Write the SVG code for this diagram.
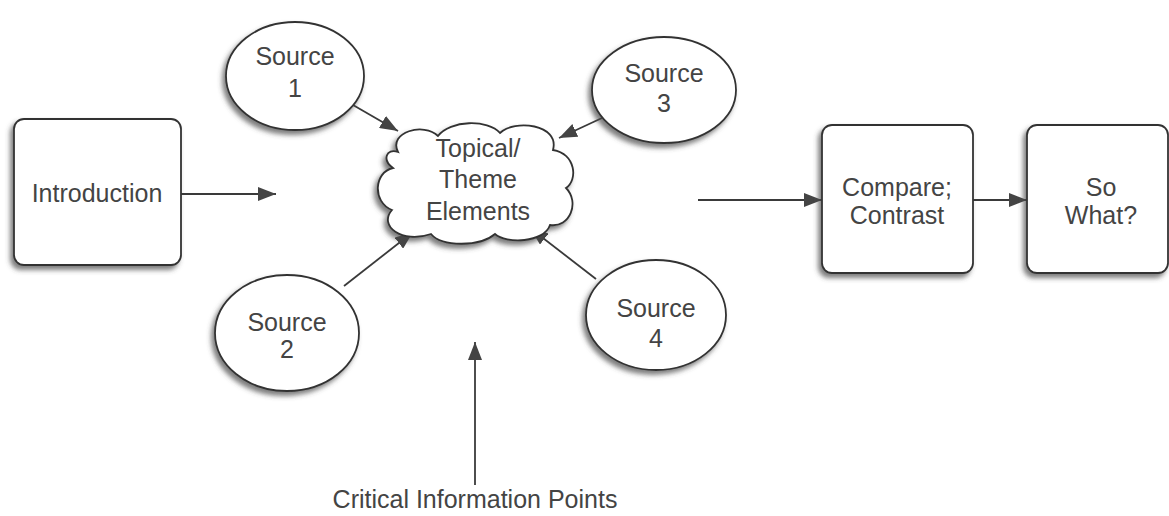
<svg xmlns="http://www.w3.org/2000/svg" width="1169" height="516" viewBox="0 0 1169 516">
<style>
.shape{fill:#fff;stroke:#333;stroke-width:1.8;filter:url(#sh)}
.lbl{font-family:"Liberation Sans",Arial,sans-serif;font-size:25px;fill:#444;text-anchor:middle}
.conn{stroke:#3a3a3a;stroke-width:1.8;fill:none;marker-end:url(#ah)}
</style>
<defs>
<filter id="sh" x="-20%" y="-20%" width="140%" height="150%">
<feDropShadow dx="-3" dy="4" stdDeviation="2.5" flood-color="#444" flood-opacity="0.7"/>
</filter>
<marker id="ah" markerUnits="userSpaceOnUse" markerWidth="20" markerHeight="14" refX="18" refY="7" orient="auto">
<path d="M0,0 L18,7 L0,14 Z" fill="#444"/>
</marker>
</defs>
<rect width="1169" height="516" fill="#fff"/>
<g id="connectors">
<line class="conn" x1="181" y1="194" x2="276" y2="194"/>
<line class="conn" x1="353" y1="105" x2="398" y2="131"/>
<line class="conn" x1="602" y1="118" x2="559" y2="138"/>
<line class="conn" x1="344" y1="286" x2="413" y2="232"/>
<line class="conn" x1="596" y1="279" x2="530" y2="228"/>
<line class="conn" x1="475" y1="485" x2="475" y2="342"/>
<line class="conn" x1="698" y1="200" x2="822" y2="200"/>
<line class="conn" x1="973" y1="200" x2="1027" y2="200"/>
</g>
<g id="introduction">
<rect class="shape" x="14" y="119" width="167" height="146" rx="10"/>
<text class="lbl" x="97" y="202">Introduction</text>
</g>
<g id="source1">
<ellipse class="shape" cx="295" cy="76" rx="69" ry="54"/>
<text class="lbl" x="295" y="65">Source</text>
<text class="lbl" x="295" y="97">1</text>
</g>
<g id="source3">
<ellipse class="shape" cx="664" cy="90" rx="72" ry="53"/>
<text class="lbl" x="664" y="82">Source</text>
<text class="lbl" x="664" y="112">3</text>
</g>
<g id="source2">
<ellipse class="shape" cx="287" cy="333" rx="72" ry="58"/>
<text class="lbl" x="287" y="331">Source</text>
<text class="lbl" x="287" y="358">2</text>
</g>
<g id="source4">
<ellipse class="shape" cx="656" cy="315" rx="70" ry="55"/>
<text class="lbl" x="656" y="317">Source</text>
<text class="lbl" x="656" y="347">4</text>
</g>
<g id="topical">
<path class="shape" d="M398,152 C388,132 424,122 438,136 C450,120 488,119 500,133 C514,119 560,124 553,150 C576,154 578,180 566,188 C580,202 570,228 550,225 C544,243 506,244 495,234 C480,247 442,247 431,234 C402,244 378,226 392,210 C372,202 374,172 393,168 C382,160 386,148 398,152 Z"/>
<text class="lbl" x="478" y="157">Topical/</text>
<text class="lbl" x="478" y="188">Theme</text>
<text class="lbl" x="478" y="220">Elements</text>
</g>
<g id="compare">
<rect class="shape" x="822" y="125" width="151" height="148" rx="10"/>
<text class="lbl" x="897" y="196">Compare;</text>
<text class="lbl" x="897" y="224">Contrast</text>
</g>
<g id="sowhat">
<rect class="shape" x="1027" y="125" width="141" height="148" rx="10"/>
<text class="lbl" x="1101" y="196">So</text>
<text class="lbl" x="1101" y="224">What?</text>
</g>
<g id="critical">
<text class="lbl" x="475" y="508">Critical Information Points</text>
</g>
</svg>
